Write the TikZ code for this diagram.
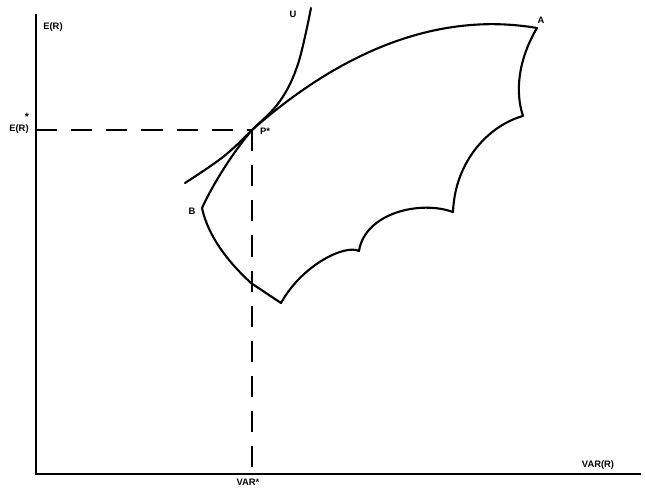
\documentclass[tikz,border=0pt]{standalone}
\usepackage{fontspec}
\setsansfont{Liberation Sans}
\usepackage{tikz}
\usetikzlibrary{positioning, calc}

\begin{document}
\begin{tikzpicture}[
    x=0.03cm, y=-0.03cm,
    lbl/.style={inner sep=1pt, font=\sffamily\bfseries\footnotesize},
    axis/.style={line width=1.5pt},
    curve/.style={line width=1.8pt, line join=round, line cap=round},
    guide/.style={line width=1.5pt, dash pattern=on 18 off 12},
]
\useasboundingbox (0,0) rectangle (645,489);
% axes
\coordinate (O) at (36,474);
\coordinate (Ytop) at (36,14);
\coordinate (Xend) at (641,474);
\draw[axis] (Ytop) -- (O) -- (Xend);
\node[lbl] (ER) at (53,27) {E(R)};
\node[lbl] (VR) at (598,465) {VAR(R)};
% optimum point and guides
\coordinate (P) at (252,130);
\coordinate (Pl) at (36,130);
\coordinate (Pb) at (252,474);
\draw[guide] (Pl) -- (P);
\draw[guide] (P) -- (Pb);
\node[lbl] (ERs) at (19,129) {E(R)};
\node[lbl, font=\sffamily\bfseries\small] (star) at (27,117) {*};
\node[lbl] (VARs) at (248,482) {VAR*};
\node[lbl] (Pst) at (265,131) {P*};
% opportunity set
\coordinate (A) at (537,28);
\coordinate (C1) at (523,116);
\coordinate (C2) at (453,212);
\coordinate (C3) at (359,251);
\coordinate (D) at (281,303);
\coordinate (E) at (251,283);
\coordinate (B) at (202,208);
\draw[curve] (P) .. controls (320,70) and (420,8) .. (A)
  .. controls (518,60) and (515,92) .. (C1)
  .. controls (490,125) and (455,160) .. (C2)
  .. controls (420,200) and (365,213) .. (C3)
  .. controls (345,244) and (302,265) .. (D)
  -- (E)
  .. controls (228,262) and (208,236) .. (B)
  .. controls (215,180) and (235,150) .. (P);
\node[lbl] (Al) at (541,20) {A};
\node[lbl] (Bl) at (192,211) {B};
% indifference curve
\draw[curve] plot[smooth, tension=0.6] coordinates
  {(185,183) (223,157) (P) (280,101) (298,64) (311,8)};
\node[lbl] (Ul) at (293,14) {U};
\end{tikzpicture}
\end{document}
